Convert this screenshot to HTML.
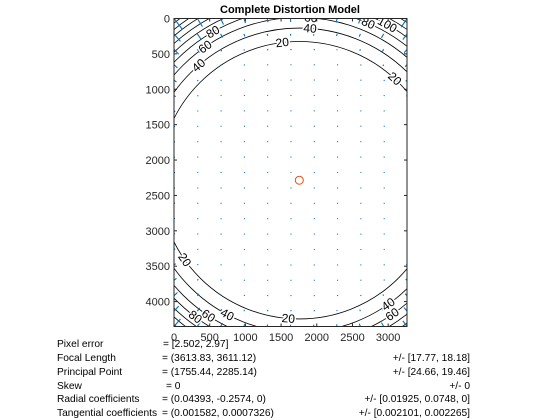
<!DOCTYPE html>
<html><head><meta charset="utf-8"><style>
body{margin:0;background:#fff;}
svg{display:block;font-family:"Liberation Sans",Arial,sans-serif;}
</style></head><body>
<svg width="560" height="420" viewBox="0 0 560 420" id="chart">
<rect x="0" y="0" width="560" height="420" fill="#fff"/>
<text x="290" y="13" text-anchor="middle" font-size="11" font-weight="bold" fill="#000">Complete Distortion Model</text>
<defs><clipPath id="clip"><rect x="174" y="18.5" width="233" height="308"/></clipPath></defs>
<g id="contours" clip-path="url(#clip)"></g>
<g id="arrows" clip-path="url(#clip)"></g>
<g id="clabels" clip-path="url(#clip)"></g>
<g id="axes"></g>
<g font-size="10.2" fill="#000">
<text x="57" y="347">Pixel error</text>
<text x="163" y="347">= [2.502, 2.97]</text>
<text x="57" y="361">Focal Length</text>
<text x="162" y="361">= (3613.83, 3611.12)</text>
<text x="470" y="361" text-anchor="end">+/- [17.77, 18.18]</text>
<text x="57" y="375">Principal Point</text>
<text x="162" y="375">= (1755.44, 2285.14)</text>
<text x="470" y="375" text-anchor="end">+/- [24.66, 19.46]</text>
<text x="57" y="389">Skew</text>
<text x="166" y="389">= 0</text>
<text x="470" y="389" text-anchor="end">+/- 0</text>
<text x="57" y="402">Radial coefficients</text>
<text x="162" y="402">= (0.04393, -0.2574, 0)</text>
<text x="470" y="402" text-anchor="end">+/- [0.01925, 0.0748, 0]</text>
<text x="57" y="416">Tangential coefficients</text>
<text x="162" y="416">= (0.001582, 0.0007326)</text>
<text x="470" y="416" text-anchor="end">+/- [0.002101, 0.002265]</text>
</g>
</svg>
<script>
const imageSize = [3264, 4352];
const principalPoint = [1755.44, 2285.14];
const focal = [3613.83, 3611.12];
const radialK = [0.04393, -0.2574];
const contourLevels = [20, 40, 60, 80, 100, 120, 140, 160, 180, 200];
const contourRadii = [1960, 2150, 2300, 2420, 2520, 2610, 2690, 2760, 2830, 2900];
const labelLevels = [20, 20, 20, 20, 40, 60, 80, 100, 40, 60, 80, 40, 60, 80, 40, 60];
const labelAngles = [-97, -47, 94.5, 145, -86, -86, -66.5, -60.7, -131, -125, -120, 118, 123.6, 127, 54.6, 55.5];
const xTicks = [0, 500, 1000, 1500, 2000, 2500, 3000];
const yTicks = [0, 500, 1000, 1500, 2000, 2500, 3000, 3500, 4000];
const gridCols = 11, gridRows = 21;

const NS = 'http://www.w3.org/2000/svg';
const X0 = 174, X1 = 407, Y0 = 18.5, Y1 = 326.5;
const sx = v => X0 + v * (X1 - X0) / imageSize[0];
const sy = v => Y0 + v * (Y1 - Y0) / imageSize[1];
function mk(tag, attrs, parent) { const e = document.createElementNS(NS, tag); for (const k in attrs) e.setAttribute(k, attrs[k]); parent.appendChild(e); return e; }

const cg = document.getElementById('contours');
contourRadii.forEach((r, i) => {
  const el = mk('ellipse', {cx: sx(principalPoint[0]), cy: sy(principalPoint[1]), rx: sx(r) - X0, ry: sy(r) - Y0, fill: 'none', stroke: '#000', 'stroke-width': 0.8}, cg);
  
  
});

const lg = document.getElementById('clabels');
labelLevels.forEach((lv, i) => {
  const r = contourRadii[contourLevels.indexOf(lv)];
  const a = labelAngles[i] * Math.PI / 180;
  const px = sx(principalPoint[0] + r * Math.cos(a)), py = sy(principalPoint[1] + r * Math.sin(a));
  let rot = labelAngles[i] + 90; if (rot > 90) rot -= 180; if (rot < -90) rot += 180;
  const t = mk('text', {x: px, y: py + 4, 'text-anchor': 'middle', 'font-size': 12, fill: '#000', stroke: '#fff', 'stroke-width': 3, 'paint-order': 'stroke', transform: `rotate(${rot} ${px} ${py})`}, lg);
  t.textContent = lv;
  
  
});

const ag = document.getElementById('arrows');
for (let i = 0; i < gridCols; i++) for (let j = 0; j < gridRows; j++) {
  const x = i * imageSize[0] / (gridCols - 1), y = j * imageSize[1] / (gridRows - 1);
  const dx = x - principalPoint[0], dy = y - principalPoint[1];
  const xn = dx / focal[0], yn = dy / focal[1], r2 = xn * xn + yn * yn;
  const f = radialK[0] * r2 + radialK[1] * r2 * r2;
  const ux = dx * f * 0.9, uy = dy * f * 0.9;
  const x1 = sx(x), y1 = sy(y);
  let x2 = sx(x + ux), y2 = sy(y + uy);
  if (Math.hypot(x2 - x1, y2 - y1) < 1.0) { x2 = x1 + 1.0; }
  const l = mk('line', {x1: x1, y1: y1, x2: x2, y2: y2, stroke: '#0072bd', 'stroke-width': 1.1}, ag);
  
  
}

const ax = document.getElementById('axes');
const box = mk('rect', {x: X0, y: Y0, width: X1 - X0, height: Y1 - Y0, fill: 'none', stroke: '#262626', 'stroke-width': 1}, ax);


xTicks.forEach(v => {
  mk('line', {x1: sx(v), x2: sx(v), y1: Y1, y2: Y1 - 3, stroke: '#262626'}, ax);
  mk('line', {x1: sx(v), x2: sx(v), y1: Y0, y2: Y0 + 3, stroke: '#262626'}, ax);
  const t = mk('text', {x: sx(v), y: 341, 'text-anchor': 'middle', 'font-size': 11, fill: '#262626'}, ax);
  t.textContent = v;
  
  
});
yTicks.forEach(v => {
  mk('line', {x1: X0, x2: X0 + 3, y1: sy(v), y2: sy(v), stroke: '#262626'}, ax);
  mk('line', {x1: X1, x2: X1 - 3, y1: sy(v), y2: sy(v), stroke: '#262626'}, ax);
  const t = mk('text', {x: 170, y: sy(v) + 4, 'text-anchor': 'end', 'font-size': 11, fill: '#262626'}, ax);
  t.textContent = v;
  
  
});
const pp = mk('circle', {cx: sx(principalPoint[0]), cy: sy(principalPoint[1]), r: 4, fill: 'none', stroke: '#d95319', 'stroke-width': 1}, document.getElementById('chart'));


</script>
</body></html>
